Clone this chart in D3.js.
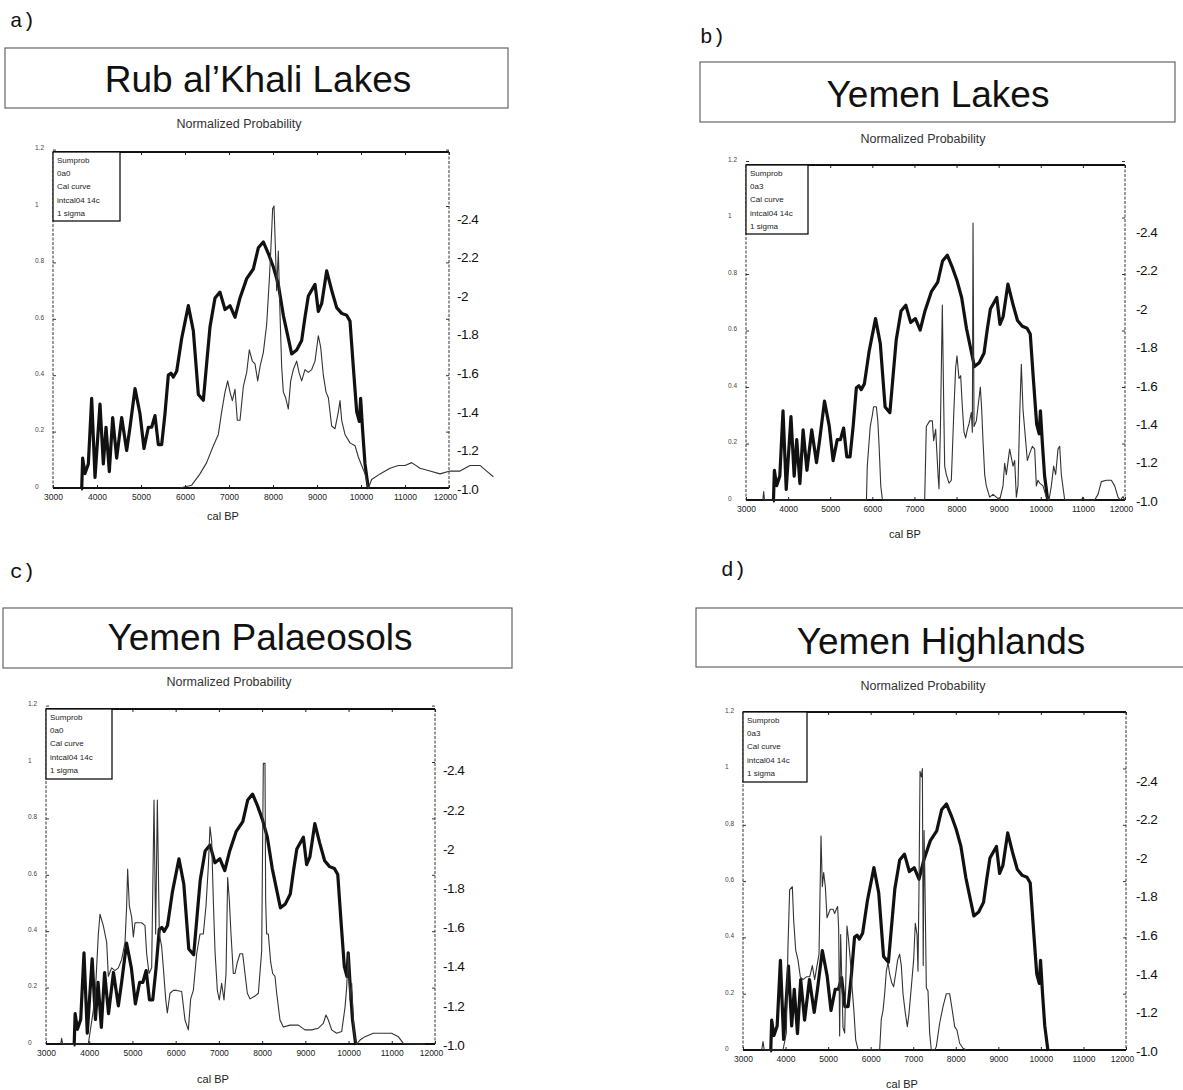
<!DOCTYPE html>
<html><head><meta charset="utf-8">
<script src="https://cdn.jsdelivr.net/npm/d3@7"></script>
<style>body{margin:0;background:#fff} svg{display:block;background:#fff}</style>
</head><body>
<svg id="chart" width="1183" height="1090"></svg>
<script>
// ---------------- DATA ----------------
const yearTicks = [3000,4000,5000,6000,7000,8000,9000,10000,11000,12000];
const probTicks = [0,0.2,0.4,0.6,0.8,1,1.2];
const probTickLabels = ["0","0.2","0.4","0.6","0.8","1","1.2"];
const rightTicks = [-1.0,-1.2,-1.4,-1.6,-1.8,-2.0,-2.2,-2.4];
const rightTickLabels = ["-1.0","-1.2","-1.4","-1.6","-1.8","-2","-2.2","-2.4"];
const panelLetters = ["a)","b)","c)","d)"];
const panelTitles = ["Rub al\u2019Khali Lakes","Yemen Lakes","Yemen Palaeosols","Yemen Highlands"];
const legendA = ["Sumprob","0a0","Cal curve","intcal04 14c","1 sigma"];
const legendB = ["Sumprob","0a3","Cal curve","intcal04 14c","1 sigma"];
const legendC = ["Sumprob","0a0","Cal curve","intcal04 14c","1 sigma"];
const legendD = ["Sumprob","0a3","Cal curve","intcal04 14c","1 sigma"];
const yLabel = "Normalized Probability";
const xLabel = "cal BP";

// thick reference record (right axis units), same in all panels
const refCurve = [[3640,-1.00],[3652,-1.00],[3674,-1.16],[3727,-1.08],[3803,-1.13],[3879,-1.47],[3955,-1.06],[4068,-1.44],[4144,-1.13],[4205,-1.32],[4280,-1.09],[4356,-1.37],[4447,-1.16],[4561,-1.37],[4674,-1.20],[4750,-1.32],[4864,-1.52],[4977,-1.39],[5068,-1.21],[5167,-1.32],[5242,-1.32],[5318,-1.38],[5394,-1.23],[5470,-1.23],[5545,-1.39],[5621,-1.59],[5680,-1.60],[5735,-1.58],[5811,-1.61],[5924,-1.78],[6076,-1.95],[6189,-1.82],[6303,-1.49],[6417,-1.46],[6492,-1.65],[6568,-1.84],[6682,-1.99],[6795,-2.02],[6909,-1.93],[7023,-1.95],[7136,-1.89],[7250,-1.99],[7402,-2.09],[7553,-2.14],[7667,-2.25],[7780,-2.28],[7894,-2.22],[8008,-2.15],[8121,-2.06],[8235,-1.90],[8348,-1.78],[8424,-1.70],[8538,-1.72],[8652,-1.77],[8727,-1.89],[8803,-2.00],[8955,-2.06],[9030,-1.92],[9106,-1.96],[9220,-2.13],[9333,-2.03],[9447,-1.94],[9561,-1.91],[9674,-1.90],[9750,-1.87],[9826,-1.63],[9902,-1.40],[9962,-1.35],[9992,-1.47],[10038,-1.30],[10091,-1.13],[10167,-1.00]];

// sum probability (left axis)
const sumprobA = [[5886,0],[6152,0.01],[6341,0.05],[6492,0.09],[6644,0.15],[6758,0.19],[6833,0.27],[6909,0.34],[6970,0.38],[7023,0.34],[7076,0.31],[7136,0.35],[7189,0.24],[7250,0.24],[7326,0.36],[7402,0.41],[7462,0.49],[7530,0.45],[7591,0.44],[7652,0.38],[7705,0.43],[7780,0.48],[7856,0.58],[7917,0.74],[7955,0.86],[7992,0.99],[8023,1.0],[8053,0.86],[8083,0.70],[8121,0.84],[8159,0.62],[8197,0.43],[8235,0.34],[8288,0.32],[8348,0.28],[8402,0.38],[8462,0.42],[8538,0.45],[8591,0.41],[8652,0.38],[8727,0.42],[8803,0.41],[8879,0.42],[8955,0.45],[9030,0.54],[9083,0.50],[9144,0.40],[9205,0.34],[9258,0.32],[9333,0.22],[9409,0.21],[9485,0.27],[9523,0.31],[9561,0.24],[9636,0.19],[9750,0.16],[9864,0.15],[9939,0.11],[10015,0.08],[10091,0.05],[10167,0],[10242,0.03],[10432,0.05],[10659,0.07],[10848,0.08],[11000,0.08],[11152,0.09],[11341,0.07],[11568,0.06],[11795,0.05],[12023,0.06],[12250,0.06],[12477,0.08],[12705,0.08],[12856,0.06],[13008,0.04]];

const sumprobB = [[3400,0],[3420,0.03],[3440,0],[5860,0],[5880,0.12],[5950,0.26],[6000,0.30],[6030,0.33],[6095,0.33],[6130,0.28],[6158,0.20],[6200,0.05],[6240,0],[7243,0],[7282,0.26],[7362,0.28],[7425,0.28],[7457,0.21],[7504,0.25],[7560,0.09],[7583,0.04],[7615,0.24],[7662,0.69],[7694,0.35],[7718,0.12],[7757,0.09],[7821,0.06],[7876,0.07],[7932,0.30],[7979,0.47],[8011,0.51],[8058,0.43],[8098,0.44],[8137,0.33],[8177,0.24],[8216,0.22],[8256,0.25],[8296,0.27],[8351,0.31],[8375,0.24],[8391,0.98],[8415,0.26],[8470,0.28],[8525,0.35],[8565,0.40],[8597,0.32],[8628,0.21],[8668,0.09],[8707,0.05],[8786,0.01],[8866,0.02],[8945,0.01],[9024,0],[9103,0.05],[9143,0.13],[9182,0.09],[9261,0.18],[9301,0.15],[9341,0.12],[9380,0.14],[9420,0.01],[9459,0.05],[9499,0.30],[9538,0.48],[9578,0.32],[9618,0.25],[9681,0.14],[9736,0.165],[9800,0.19],[9855,0.18],[9895,0.05],[9934,0.07],[9974,0.06],[10053,0.05],[10132,0.01],[10196,0],[10251,0.05],[10306,0.12],[10354,0.09],[10409,0.18],[10449,0.19],[10488,0.09],[10568,0],[10963,0],[11000,0.01],[11040,0],[11280,0],[11359,0.02],[11438,0.065],[11557,0.07],[11676,0.07],[11755,0.05],[11834,0.01],[11889,0],[11953,0.012],[11992,0]];

const sumprobC = [[3340,0],[3362,0.02],[3385,0],[3979,0],[4134,0.16],[4211,0.39],[4249,0.46],[4326,0.42],[4404,0.36],[4442,0.24],[4519,0.27],[4596,0.26],[4674,0.27],[4751,0.30],[4828,0.36],[4866,0.49],[4889,0.62],[4928,0.49],[4982,0.45],[5021,0.38],[5059,0.43],[5136,0.43],[5213,0.43],[5290,0.42],[5329,0.32],[5383,0.25],[5445,0.27],[5499,0.865],[5537,0.39],[5576,0.865],[5622,0.39],[5676,0.345],[5715,0.27],[5769,0.16],[5807,0.11],[5869,0.18],[5946,0.19],[6023,0.19],[6139,0.186],[6216,0.085],[6293,0.05],[6347,0.16],[6409,0.19],[6486,0.32],[6563,0.39],[6640,0.39],[6702,0.49],[6756,0.63],[6794,0.77],[6833,0.72],[6871,0.51],[6910,0.33],[6964,0.19],[7010,0.156],[7064,0.215],[7118,0.156],[7165,0.25],[7203,0.59],[7242,0.51],[7280,0.39],[7334,0.25],[7373,0.25],[7427,0.29],[7488,0.32],[7550,0.32],[7604,0.25],[7658,0.18],[7720,0.16],[7836,0.17],[7913,0.18],[7990,0.33],[8028,0.995],[8067,0.995],[8082,0.51],[8105,0.39],[8144,0.39],[8198,0.29],[8244,0.25],[8298,0.24],[8337,0.18],[8414,0.085],[8491,0.06],[8645,0.067],[8838,0.067],[8992,0.05],[9147,0.05],[9301,0.056],[9416,0.073],[9478,0.103],[9532,0.085],[9609,0.05],[9725,0.038],[9841,0.044],[9918,0.13],[9956,0.20],[9995,0.32],[10033,0.156],[10072,0.215],[10126,0.038],[10188,0],[10265,0.014],[10380,0.026],[10573,0.038],[10805,0.038],[10997,0.038],[11152,0.026],[11267,0.002],[11499,0],[11769,0]];

const sumprobD = [[3440,0],[3470,0.03],[3500,0],[3940,0],[4018,0.06],[4057,0.37],[4097,0.57],[4159,0.58],[4191,0.46],[4238,0.355],[4292,0.32],[4347,0.26],[4410,0.25],[4488,0.26],[4567,0.26],[4629,0.30],[4684,0.25],[4739,0.30],[4786,0.34],[4833,0.76],[4864,0.58],[4896,0.63],[4935,0.58],[4974,0.47],[5013,0.485],[5052,0.50],[5115,0.50],[5154,0.485],[5193,0.50],[5224,0.51],[5248,0.43],[5271,0.05],[5295,0.41],[5326,0.225],[5350,0.08],[5389,0.06],[5444,0.44],[5475,0.40],[5522,0.32],[5569,0.21],[5601,0.15],[5648,0.036],[5702,0.002],[6211,0],[6250,0.11],[6290,0.14],[6329,0.20],[6368,0.28],[6407,0.31],[6446,0.27],[6493,0.24],[6540,0.225],[6587,0.27],[6634,0.32],[6681,0.34],[6720,0.30],[6760,0.20],[6815,0.13],[6862,0.083],[6901,0.13],[6956,0.225],[7010,0.32],[7049,0.45],[7089,0.41],[7112,0.28],[7136,0.58],[7160,0.99],[7190,0.97],[7215,1.0],[7235,0.30],[7255,0.78],[7275,0.60],[7308,0.22],[7347,0.21],[7386,0.06],[7425,0],[7504,0],[7543,0.012],[7621,0.095],[7700,0.154],[7778,0.20],[7856,0.20],[7919,0.14],[7974,0.083],[8029,0.07],[8091,0.024],[8170,0.006],[8248,0]];

// ---------------- LAYOUT ----------------
const layouts = [
  {letter:[10,27], box:[5,48,503,60], title:[258,92], ylab:[239,128], plot:{l:53,r:449,t:152,b:488}, unit:282, rs:38.6, rOff:8, xlab:[223,520], leg:[67,69]},
  {letter:[700,43], box:[700,62,475,60], title:[938,107], ylab:[923,143], plot:{l:746,r:1125,t:165,b:500}, unit:282.5, rs:38.4, rOff:11, xlab:[905,538], leg:[62,69]},
  {letter:[10,578], box:[3,608,509,60], title:[260,650], ylab:[229,686], plot:{l:46,r:435,t:709,b:1044}, unit:282, rs:39.2, rOff:8, xlab:[213,1083], leg:[66,70]},
  {letter:[721,576], box:[696,608,500,59], title:[941,654], ylab:[923,690], plot:{l:743,r:1126,t:712,b:1050}, unit:281.5, rs:38.6, rOff:10, xlab:[902,1088], leg:[64,70]}
];
const legends = [legendA, legendB, legendC, legendD];
const sums = [sumprobA, sumprobB, sumprobC, sumprobD];

const svg = d3.select("#chart");
const SANS = "'Liberation Sans', Arial, Helvetica, sans-serif";

layouts.forEach((L, i) => {
  const g = svg.append("g");
  const P = L.plot;
  // panel letter
  g.append("text").attr("x", L.letter[0]).attr("y", L.letter[1])
    .attr("font-family", "'Liberation Mono', 'Courier New', monospace")
    .attr("font-size", 21).attr("fill", "#111").text(panelLetters[i]);
  // title box
  g.append("rect").attr("x", L.box[0]).attr("y", L.box[1]).attr("width", L.box[2]).attr("height", L.box[3])
    .attr("fill", "none").attr("stroke", "#666").attr("stroke-width", 1.2);
  g.append("text").attr("x", L.title[0]).attr("y", L.title[1]).attr("text-anchor", "middle")
    .attr("font-family", SANS).attr("font-size", 37).attr("fill", "#111").text(panelTitles[i]);
  g.append("text").attr("x", L.ylab[0]).attr("y", L.ylab[1]).attr("text-anchor", "middle")
    .attr("font-family", SANS).attr("font-size", 12.5).attr("fill", "#333").text(yLabel);

  const x = d3.scaleLinear().domain([3000, 12000]).range([P.l, P.r]);
  const y = d3.scaleLinear().domain([0, 1]).range([P.b, P.b - L.unit]);
  const yr = d3.scaleLinear().domain([-1.0, -1.2]).range([P.b + 1, P.b + 1 - L.rs]);

  // bottom axis
  const xa = g.append("g").attr("transform", `translate(0,${P.b})`)
    .call(d3.axisBottom(x).tickValues(yearTicks).tickSize(-3).tickSizeOuter(0).tickPadding(6).tickFormat(d3.format("d")));
  xa.select(".domain").remove();
  xa.selectAll("text").attr("font-family", SANS).attr("font-size", 8.5).attr("fill", "#222")
    .attr("dx", d => d === 12000 ? -4 : 0);
  xa.selectAll("line").attr("stroke", "#222");
  // top ticks
  const xt = g.append("g").attr("transform", `translate(0,${P.t})`)
    .call(d3.axisTop(x).tickValues(yearTicks).tickSize(-3).tickSizeOuter(0).tickFormat(""));
  xt.select(".domain").remove();
  xt.selectAll("line").attr("stroke", "#222");

  // left axis
  const ya = g.append("g").attr("transform", `translate(${P.l},0)`)
    .call(d3.axisLeft(y).tickValues(probTicks).tickSize(-3).tickSizeOuter(0).tickFormat((d, k) => probTickLabels[k]));
  ya.select(".domain").remove();
  ya.selectAll("text").attr("text-anchor", "start").attr("x", -18).attr("dy", "0.05em")
    .attr("font-family", SANS).attr("font-size", 6.5).attr("fill", "#444");
  ya.selectAll("line").attr("stroke", "#333");
  // right mirrored ticks
  const yb = g.append("g").attr("transform", `translate(${P.r},0)`)
    .call(d3.axisRight(y).tickValues(probTicks).tickSize(-3).tickSizeOuter(0).tickFormat(""));
  yb.select(".domain").remove();
  yb.selectAll("line").attr("stroke", "#333");
  // right labels
  const yc = g.append("g").attr("transform", `translate(${P.r},0)`)
    .call(d3.axisRight(yr).tickValues(rightTicks).tickSize(0).tickPadding(L.rOff).tickFormat((d, k) => rightTickLabels[k]));
  yc.select(".domain").remove();
  yc.selectAll("text").attr("font-family", SANS).attr("font-size", 13.5).attr("fill", "#111").attr("letter-spacing", "-0.5");

  // frame
  g.append("line").attr("x1", P.l).attr("x2", P.r).attr("y1", P.t).attr("y2", P.t).attr("stroke", "#111").attr("stroke-width", 2);
  g.append("line").attr("x1", P.l).attr("x2", P.r).attr("y1", P.b).attr("y2", P.b).attr("stroke", "#111").attr("stroke-width", 2);
  g.append("line").attr("x1", P.l).attr("x2", P.l).attr("y1", P.t).attr("y2", P.b).attr("stroke", "#333").attr("stroke-width", 1).attr("stroke-dasharray", "3,1.5");
  g.append("line").attr("x1", P.r).attr("x2", P.r).attr("y1", P.t).attr("y2", P.b).attr("stroke", "#333").attr("stroke-width", 1).attr("stroke-dasharray", "3,1.5");

  // curves
  g.append("path").datum(refCurve)
    .attr("d", d3.line().x(d => x(d[0])).y(d => yr(d[1])))
    .attr("fill", "none").attr("stroke", "#111").attr("stroke-width", 3.2).attr("stroke-linejoin", "round");
  g.append("path").datum(sums[i])
    .attr("d", d3.line().x(d => x(d[0])).y(d => y(d[1])))
    .attr("fill", "none").attr("stroke", "#333").attr("stroke-width", 1.1).attr("stroke-linejoin", "round");

  // legend
  g.append("rect").attr("x", P.l).attr("y", P.t).attr("width", L.leg[0]).attr("height", L.leg[1])
    .attr("fill", "#fff").attr("stroke", "#111").attr("stroke-width", 1.3);
  g.append("g").selectAll("text").data(legends[i]).join("text")
    .attr("x", P.l + 4).attr("y", (d, k) => P.t + 11 + k * 13.2)
    .attr("font-family", SANS).attr("font-size", 8).attr("fill", "#222").text(d => d);

  // x label
  g.append("text").attr("x", L.xlab[0]).attr("y", L.xlab[1]).attr("text-anchor", "middle")
    .attr("font-family", SANS).attr("font-size", 11).attr("fill", "#222").text(xLabel);
});
</script>
</body></html>
